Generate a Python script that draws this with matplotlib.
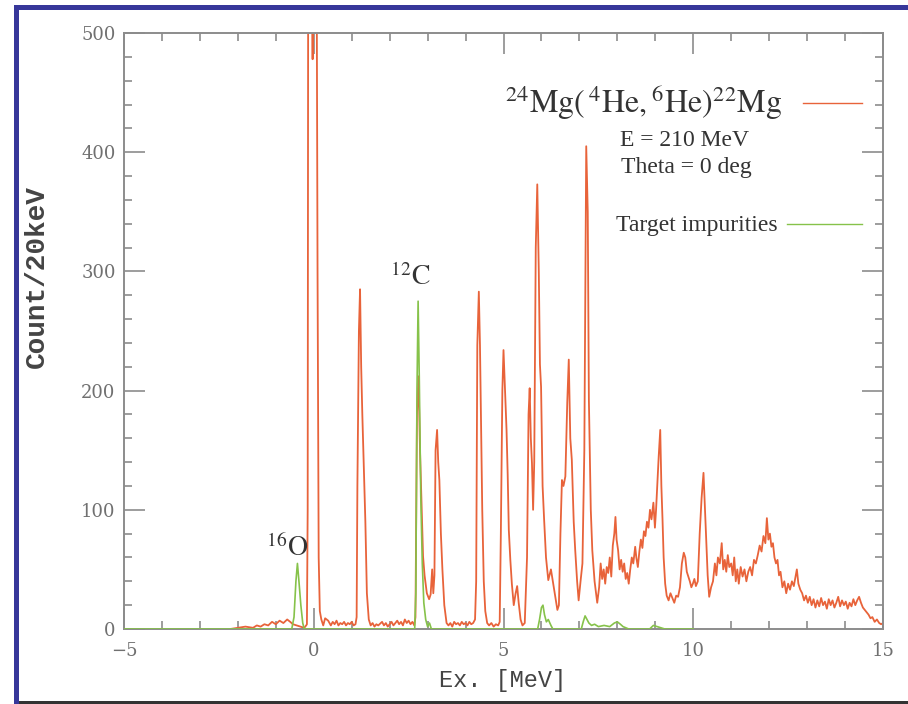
#!/usr/bin/env python3
"""
Excitation energy spectrum 24Mg(4He,6He)22Mg, E = 210 MeV, Theta = 0 deg
with the target impurity spectrum (16O, 12C) overlaid.
"""

import matplotlib
matplotlib.use('Agg')
import matplotlib.pyplot as plt
from matplotlib.patches import Rectangle
from matplotlib.ticker import MultipleLocator

plt.rcParams.update({
    'mathtext.fontset': 'stix',
    'font.family': 'DejaVu Serif',
})

W, H = 908, 704

# 22Mg spectrum (Ex in MeV, counts per 20 keV)
mg_x = [
    -2.20, -2.00, -1.80, -1.60, -1.50, -1.40, -1.30, -1.20, -1.10, -1.00,
    -0.90, -0.80, -0.70, -0.62, -0.55, -0.45, -0.35, -0.25, -0.20, -0.18,
    -0.16, -0.15, -0.10, -0.03, 0.03, 0.08, 0.10, 0.13, 0.16, 0.20,
    0.25, 0.30, 0.38, 0.45, 0.50, 0.55, 0.60, 0.65, 0.70, 0.75,
    0.80, 0.85, 0.90, 0.95, 1.00, 1.05, 1.10, 1.13, 1.15, 1.19,
    1.22, 1.25, 1.28, 1.32, 1.36, 1.40, 1.45, 1.50, 1.55, 1.60,
    1.65, 1.70, 1.80, 1.85, 1.90, 1.95, 2.00, 2.05, 2.10, 2.15,
    2.20, 2.25, 2.30, 2.35, 2.40, 2.45, 2.50, 2.55, 2.60, 2.65,
    2.68, 2.72, 2.76, 2.80, 2.84, 2.88, 2.92, 2.98, 3.04, 3.08,
    3.12, 3.15, 3.18, 3.21, 3.25, 3.28, 3.31, 3.35, 3.39, 3.44,
    3.50, 3.55, 3.60, 3.65, 3.70, 3.75, 3.80, 3.85, 3.90, 3.95,
    4.00, 4.05, 4.10, 4.15, 4.20, 4.25, 4.28, 4.31, 4.35, 4.38,
    4.41, 4.44, 4.48, 4.52, 4.57, 4.62, 4.68, 4.74, 4.80, 4.86,
    4.90, 4.93, 4.97, 5.00, 5.04, 5.08, 5.11, 5.14, 5.18, 5.22,
    5.27, 5.32, 5.36, 5.40, 5.45, 5.50, 5.56, 5.62, 5.66, 5.69,
    5.72, 5.75, 5.78, 5.81, 5.85, 5.89, 5.93, 5.96, 5.99, 6.03,
    6.07, 6.12, 6.18, 6.25, 6.30, 6.36, 6.42, 6.46, 6.50, 6.54,
    6.58, 6.63, 6.68, 6.72, 6.76, 6.80, 6.85, 6.89, 6.94, 6.98,
    7.03, 7.08, 7.13, 7.18, 7.22, 7.25, 7.30, 7.34, 7.40, 7.47,
    7.52, 7.56, 7.60, 7.64, 7.68, 7.72, 7.76, 7.80, 7.84, 7.88,
    7.92, 7.95, 7.98, 8.02, 8.06, 8.10, 8.14, 8.18, 8.22, 8.26,
    8.30, 8.34, 8.38, 8.42, 8.47, 8.50, 8.54, 8.58, 8.62, 8.66,
    8.70, 8.74, 8.78, 8.82, 8.86, 8.90, 8.95, 8.99, 9.02, 9.05,
    9.09, 9.13, 9.16, 9.19, 9.22, 9.26, 9.30, 9.35, 9.40, 9.45,
    9.50, 9.55, 9.60, 9.65, 9.70, 9.75, 9.79, 9.83, 9.87, 9.91,
    9.95, 9.99, 10.03, 10.07, 10.12, 10.17, 10.22, 10.27, 10.31, 10.34,
    10.38, 10.42, 10.47, 10.52, 10.57, 10.61, 10.65, 10.70, 10.75, 10.79,
    10.83, 10.87, 10.91, 10.95, 11.00, 11.04, 11.08, 11.12, 11.16, 11.20,
    11.25, 11.30, 11.35, 11.40, 11.45, 11.50, 11.55, 11.60, 11.65, 11.70,
    11.75, 11.80, 11.85, 11.90, 11.94, 11.98, 12.02, 12.06, 12.10, 12.14,
    12.18, 12.22, 12.26, 12.30, 12.35, 12.40, 12.45, 12.50, 12.55, 12.60,
    12.65, 12.70, 12.73, 12.77, 12.82, 12.87, 12.92, 12.97, 13.02, 13.07,
    13.12, 13.17, 13.22, 13.27, 13.32, 13.37, 13.42, 13.47, 13.52, 13.57,
    13.62, 13.67, 13.72, 13.77, 13.82, 13.87, 13.92, 13.97, 14.02, 14.07,
    14.12, 14.17, 14.22, 14.27, 14.32, 14.37, 14.42, 14.47, 14.52, 14.57,
    14.62, 14.67, 14.72, 14.78, 14.84, 14.90, 14.95, 15.00,
]
mg_counts = [
    0, 1, 2, 1, 3, 2, 4, 3, 6, 4,
    7, 5, 8, 6, 4, 3, 2, 1, 3, 4,
    100, 520, 700, 478, 700, 520, 300, 60, 15, 8,
    3, 9, 7, 3, 6, 4, 7, 3, 5, 4,
    6, 3, 5, 4, 6, 3, 4, 10, 120, 250,
    285, 220, 180, 134, 90, 30, 8, 3, 5, 2,
    4, 3, 6, 3, 5, 2, 4, 6, 3, 5,
    7, 4, 6, 3, 8, 5, 7, 4, 6, 3,
    10, 180, 212, 150, 106, 61, 45, 30, 25, 29,
    50, 30, 45, 150, 167, 140, 125, 80, 50, 20,
    5, 3, 5, 2, 6, 4, 5, 3, 6, 4,
    5, 3, 6, 4, 5, 8, 40, 238, 283, 238,
    170, 100, 40, 15, 5, 3, 5, 2, 4, 3,
    6, 80, 200, 234, 200, 167, 130, 83, 58, 38,
    20, 30, 36, 22, 8, 3, 5, 60, 180, 202,
    160, 139, 100, 140, 320, 373, 300, 222, 203, 120,
    92, 60, 41, 50, 40, 28, 16, 20, 80, 125,
    120, 128, 190, 226, 160, 142, 90, 66, 40, 24,
    40, 55, 150, 405, 350, 192, 100, 66, 40, 22,
    35, 55, 42, 50, 38, 52, 47, 60, 44, 70,
    80, 94, 75, 66, 50, 58, 48, 55, 42, 47,
    38, 50, 60, 55, 69, 60, 52, 65, 75, 68,
    82, 78, 90, 85, 100, 92, 106, 85, 100, 120,
    145, 167, 120, 92, 60, 38, 28, 24, 30, 26,
    22, 28, 27, 35, 55, 64, 60, 48, 44, 40,
    35, 38, 42, 36, 40, 80, 110, 131, 100, 75,
    45, 27, 35, 40, 55, 45, 60, 55, 72, 50,
    58, 48, 62, 52, 55, 45, 60, 40, 50, 38,
    52, 44, 50, 40, 48, 52, 45, 58, 55, 62,
    70, 65, 78, 72, 93, 75, 80, 69, 72, 60,
    55, 58, 45, 48, 35, 40, 30, 38, 33, 40,
    36, 45, 50, 38, 33, 30, 24, 28, 22, 27,
    20, 25, 18, 24, 19, 26, 20, 23, 17, 25,
    20, 24, 18, 22, 27, 19, 24, 20, 23, 17,
    22, 19, 25, 20, 24, 27, 22, 18, 16, 14,
    12, 9, 10, 6, 8, 5, 4, 5,
]

# Target impurity spectrum (16O, 12C)
imp_x = [
    -5.00, -0.58, -0.52, -0.47, -0.43, -0.39, -0.34, -0.29, -0.25, 2.66,
    2.69, 2.72, 2.75, 2.78, 2.82, 2.86, 2.90, 2.95, 3.00, 3.05,
    3.10, 5.90, 5.95, 6.00, 6.04, 6.08, 6.13, 6.18, 6.25, 6.30,
    7.05, 7.10, 7.15, 7.20, 7.25, 7.32, 7.40, 7.50, 7.65, 7.80,
    7.92, 8.00, 8.08, 8.15, 8.30, 8.85, 8.95, 9.05, 9.15, 9.25,
    10.00,
]
imp_counts = [
    0, 0, 10, 40, 55, 40, 20, 5, 0, 0,
    30, 200, 275, 212, 111, 55, 22, 8, 2, 5,
    0, 0, 8, 18, 20, 12, 6, 8, 3, 0,
    0, 6, 11, 8, 5, 3, 4, 2, 3, 2,
    5, 6, 4, 2, 0, 0, 3, 2, 1, 0,
    0,
]

x_ticks = [-5, 0, 5, 10, 15]
y_ticks = [0, 100, 200, 300, 400, 500]

red = '#e8633a'
green = '#86c24a'
axis_grey = '#8c8c8c'
text_grey = '#444444'


def fx(px):
    return px / W


def fy(py):
    return 1 - py / H


fig = plt.figure(figsize=(W / 100, H / 100), dpi=100)
ax = fig.add_axes([fx(124), fy(629), fx(883) - fx(124), fy(33) - fy(629)])

ax.plot(mg_x, mg_counts, color=red, linewidth=1.3, zorder=2)
ax.plot(imp_x, imp_counts, color=green, linewidth=1.2, zorder=3)

ax.set_xlim(-5, 15)
ax.set_ylim(0, 500)
ax.set_xticks(x_ticks)
ax.set_yticks(y_ticks)
ax.xaxis.set_minor_locator(MultipleLocator(1))
ax.yaxis.set_minor_locator(MultipleLocator(20))

for side in ax.spines.values():
    side.set_color(axis_grey)
    side.set_linewidth(1.4)

ax.tick_params(which='both', direction='in', top=True, right=True,
               color=axis_grey, width=1.2, labelcolor='#707070', labelsize=13)
ax.tick_params(which='major', length=15)
ax.tick_params(which='minor', length=6)
ax.tick_params(axis='x', pad=9)
ax.tick_params(axis='y', pad=6)

# axis titles
fig.text(fx(37), fy(277), 'Count/20keV', rotation=90, ha='center', va='center',
         family='Liberation Mono', fontweight='bold', fontsize=20, color=text_grey)
fig.text(fx(503), fy(680), 'Ex. [MeV]', ha='center', va='center',
         family='Liberation Mono', fontsize=17, color=text_grey)

# legend block
fig.text(fx(782), fy(103),
         r'$^{24}\mathrm{Mg(}\,^{4}\mathrm{He,}^{6}\mathrm{He)}^{22}\mathrm{Mg}$',
         ha='right', va='center', fontsize=23, color='#333333')
fig.add_artist(plt.Line2D([fx(803), fx(862)], [fy(103), fy(103)], color=red, linewidth=1.0))
fig.text(fx(684), fy(140), 'E = 210 MeV', ha='center', va='center',
         family='Liberation Serif', fontsize=17, color='#333333')
fig.text(fx(686), fy(168), 'Theta = 0 deg', ha='center', va='center',
         family='Liberation Serif', fontsize=17, color='#333333')
fig.text(fx(778), fy(226), 'Target impurities', ha='right', va='center',
         family='Liberation Serif', fontsize=17, color='#333333')
fig.add_artist(plt.Line2D([fx(787), fx(862)], [fy(224), fy(224)], color=green, linewidth=1.0))

# peak labels
fig.text(fx(410), fy(277), r'$^{12}\mathrm{C}$', ha='center', va='center',
         fontsize=20, color='#333333')
fig.text(fx(287), fy(548), r'$^{16}\mathrm{O}$', ha='center', va='center',
         fontsize=20, color='#333333')

# slide frame
blue = '#37379a'
fig.add_artist(Rectangle((fx(14), 0), fx(5), fy(5), transform=fig.transFigure,
                         facecolor=blue, edgecolor='none'))
fig.add_artist(Rectangle((fx(14), fy(10)), 1 - fx(14), fy(5) - fy(10), transform=fig.transFigure,
                         facecolor=blue, edgecolor='none'))
fig.add_artist(Rectangle((fx(19), 0), 1 - fx(19), fy(701), transform=fig.transFigure,
                         facecolor='#333333', edgecolor='none'))

fig.savefig('out.png', dpi=100)
